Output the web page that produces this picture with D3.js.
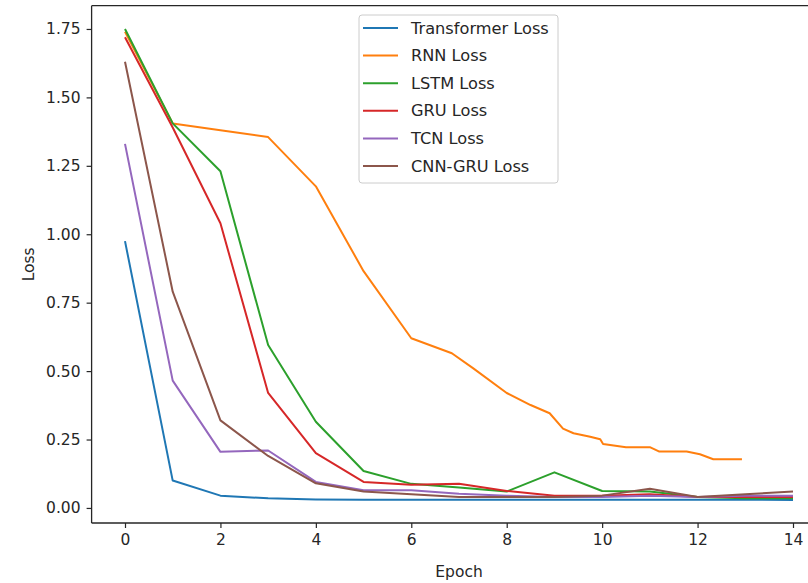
<!DOCTYPE html>
<html>
<head>
<meta charset="utf-8">
<script src="https://cdn.jsdelivr.net/npm/d3@7/dist/d3.min.js"></script>
<style>
html,body{margin:0;padding:0;background:#fff;}
svg{display:block;}
text{font-family:"DejaVu Sans",sans-serif;fill:#262626;}
</style>
</head>
<body>
<svg id="chart" width="808" height="583"></svg>
<script>
const epochs = [0,1,2,3,4,5,6,7,8,9,10,11,12,13,14];
const transformerLoss = [0.975,0.10,0.045,0.035,0.031,0.030,0.030,0.030,0.030,0.030,0.030,0.030,0.030,0.030,0.029];
const rnnEpochs = [0,1,2,3,4,5,6,6.85,7.3,8.0,8.5,8.9,9.18,9.4,9.75,9.96,10.02,10.5,11.0,11.2,11.77,12.05,12.33,12.93];
const rnnLoss = [1.74,1.405,1.38,1.355,1.175,0.865,0.62,0.565,0.51,0.42,0.376,0.346,0.29,0.273,0.26,0.251,0.234,0.222,0.222,0.206,0.206,0.196,0.178,0.178];
const lstmLoss = [1.75,1.405,1.23,0.595,0.315,0.135,0.088,0.075,0.06,0.13,0.062,0.06,0.04,0.035,0.035];
const gruLoss = [1.72,1.39,1.04,0.42,0.20,0.095,0.085,0.088,0.062,0.045,0.045,0.05,0.04,0.04,0.04];
const tcnLoss = [1.33,0.465,0.205,0.21,0.095,0.065,0.065,0.052,0.045,0.04,0.04,0.045,0.04,0.045,0.045];
const cnnGruLoss = [1.63,0.79,0.32,0.19,0.09,0.06,0.05,0.04,0.04,0.04,0.045,0.07,0.04,0.05,0.06];
const seriesNames = ["Transformer Loss","RNN Loss","LSTM Loss","GRU Loss","TCN Loss","CNN-GRU Loss"];
const seriesColors = ["#1f77b4","#ff7f0e","#2ca02c","#d62728","#9467bd","#8c564b"];
const xTicks = [0,2,4,6,8,10,12,14];
const yTicks = [0,0.25,0.5,0.75,1.0,1.25,1.5,1.75];

const series = [
  {x: epochs, y: transformerLoss},
  {x: rnnEpochs, y: rnnLoss},
  {x: epochs, y: lstmLoss},
  {x: epochs, y: gruLoss},
  {x: epochs, y: tcnLoss},
  {x: epochs, y: cnnGruLoss}
].map((s,i)=>({name: seriesNames[i], color: seriesColors[i], pts: s.x.map((e,j)=>[e, s.y[j]])}));

const svg = d3.select("#chart");
const L = 91.6, R = 826.4, T = 5.7, B = 523;
const x = d3.scaleLinear().domain([-0.7,14.7]).range([L,R]);
const y = d3.scaleLinear().domain([-0.055,1.835]).range([B,T]);

const line = d3.line().x(d=>x(d[0])).y(d=>y(d[1]));
svg.append("g").selectAll("path").data(series).join("path")
  .attr("d", d=>line(d.pts)).attr("fill","none")
  .attr("stroke", d=>d.color).attr("stroke-width",2)
  .attr("stroke-linejoin","round").attr("stroke-linecap","butt");

// axes
const xAxis = svg.append("g").attr("transform",`translate(0,${B})`)
  .call(d3.axisBottom(x).tickValues(xTicks).tickFormat(d3.format("d")).tickSizeOuter(0).tickSize(5).tickPadding(6));
const yAxis = svg.append("g").attr("transform",`translate(${L},0)`)
  .call(d3.axisLeft(y).tickValues(yTicks).tickFormat(d3.format(".2f")).tickSizeOuter(0).tickSize(5).tickPadding(6));
[xAxis,yAxis].forEach(a=>{
  a.selectAll("text").attr("font-size",15.5).attr("font-family","DejaVu Sans").attr("fill","#262626");
  a.selectAll("line").attr("stroke","#262626").attr("stroke-width",1.2);
  a.select(".domain").remove();
});
// spines
svg.append("line").attr("x1",L).attr("x2",L).attr("y1",T).attr("y2",B).attr("stroke","#262626").attr("stroke-width",1.3);
svg.append("line").attr("x1",L).attr("x2",808).attr("y1",B).attr("y2",B).attr("stroke","#262626").attr("stroke-width",1.3);
svg.append("line").attr("x1",L).attr("x2",808).attr("y1",T).attr("y2",T).attr("stroke","#262626").attr("stroke-width",1.3);

// axis labels
svg.append("text").attr("x",(L+R)/2).attr("y",577).attr("text-anchor","middle").attr("font-size",15.5).text("Epoch");
svg.append("text").attr("transform",`translate(34,${(T+B)/2}) rotate(-90)`).attr("text-anchor","middle").attr("font-size",15.5).text("Loss");

// legend
const lg = svg.append("g");
lg.append("rect").attr("x",359).attr("y",15).attr("width",199).attr("height",168)
  .attr("rx",3).attr("fill","#fff").attr("fill-opacity",0.8).attr("stroke","#cccccc").attr("stroke-width",1);
const items = lg.selectAll("g.item").data(series).join("g").attr("class","item")
  .attr("transform",(d,i)=>`translate(0,${28 + i*27.6})`);
items.append("line").attr("x1",363).attr("x2",398).attr("y1",0).attr("y2",0)
  .attr("stroke",d=>d.color).attr("stroke-width",2);
items.append("text").attr("x",411).attr("y",0).attr("dy","0.35em").attr("font-size",16.2).text(d=>d.name);
</script>
</body>
</html>
